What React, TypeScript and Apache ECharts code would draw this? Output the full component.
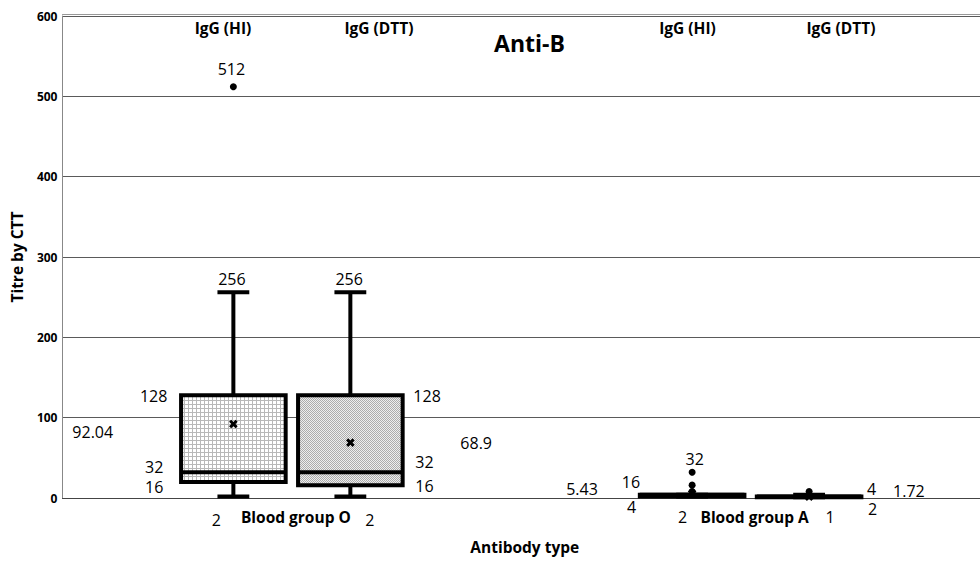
import React, { useEffect, useRef } from "react";
import * as echarts from "echarts";

// ---------- data ----------
const categories = ["Blood group O", "Blood group A"];
const seriesNames = ["IgG (HI)", "IgG (DTT)"];
const yTicks = [0, 100, 200, 300, 400, 500, 600];

// five-number summaries [min, Q1, median, Q3, max], one per category
const hiBoxes = [
  [2, 20, 32, 128, 256],
  [2, 2, 4, 4, 4],
];
const dttBoxes = [
  [2, 16, 32, 128, 256],
  [1, 1, 2, 2, 4],
];
// outliers [categoryIndex, value]
const hiOutliers = [
  [0, 512],
  [1, 32],
  [1, 16],
  [1, 8],
];
const dttOutliers = [[1, 8]];
// means per category
const hiMeans = [92.04, 5.43];
const dttMeans = [68.9, 1.72];
// value labels [categoryIndex, value]
const hiLabels = [
  [0, 512], [0, 256], [0, 128], [0, 32], [0, 16], [0, 2], [0, 92.04],
  [1, 32], [1, 16], [1, 4], [1, 2], [1, 5.43],
];
const dttLabels = [
  [0, 256], [0, 128], [0, 32], [0, 16], [0, 2], [0, 68.9],
  [1, 4], [1, 2], [1, 1], [1, 1.72],
];

// ---------- label placement (style, px offsets from the point) ----------
const hiLabelPlace: [number, number, string][] = [
  [-2, -18, "center"], [-1.5, -13, "center"], [-66, 1, "right"], [-70, -5.5, "right"],
  [-70, 2, "right"], [-17, 23.5, "center"], [-161, 8, "left"],
  [2.5, -13.3, "center"], [-52, -3.5, "right"], [-60.5, 12, "center"],
  [-9.5, 21, "center"], [-126, -4.3, "left"],
];
const dttLabelPlace: [number, number, string][] = [
  [-1.2, -13.3, "center"], [63, 0.7, "left"], [65, -10.6, "left"], [65, 0.8, "left"],
  [19.5, 23.5, "center"], [110, 0.6, "left"],
  [58, -5.5, "left"], [59, 12.5, "left"], [21, 20, "center"], [84, -6, "left"],
];

const FONT = "'Open Sans', 'Liberation Sans', sans-serif";
const BOX_OFFSET = [-0.1275, 0.1275];
const BOX_WIDTH = 0.228;
const CAP_WIDTH = 0.0694;

function makeGridPattern() {
  const c = document.createElement("canvas");
  c.width = 4;
  c.height = 4;
  const ctx = c.getContext("2d")!;
  ctx.fillStyle = "#ffffff";
  ctx.fillRect(0, 0, 4, 4);
  ctx.fillStyle = "#b8b8b8";
  ctx.fillRect(0, 0, 4, 1);
  ctx.fillRect(0, 0, 1, 4);
  return { image: c, repeat: "repeat" };
}
function makeDotPattern() {
  const c = document.createElement("canvas");
  c.width = 2;
  c.height = 2;
  const ctx = c.getContext("2d")!;
  ctx.fillStyle = "#eeeeee";
  ctx.fillRect(0, 0, 2, 2);
  ctx.fillStyle = "#acacac";
  ctx.fillRect(0, 0, 1, 1);
  ctx.fillRect(1, 1, 1, 1);
  return { image: c, repeat: "repeat" };
}

function boxRenderer(s: number, fill: any) {
  return (params: any, api: any) => {
    const cat = api.value(0);
    const band = api.size([1, 0])[0];
    const cx = api.coord([cat, 0])[0] + BOX_OFFSET[s] * band;
    const py = (v: number) => api.coord([cat, v])[1];
    const [yMin, yQ1, yMed, yQ3, yMax] = [1, 2, 3, 4, 5].map((d) => py(api.value(d)));
    const hw = (BOX_WIDTH * band) / 2;
    const cw = (CAP_WIDTH * band) / 2;
    const ls = { stroke: "#000", lineWidth: 4 };
    return {
      type: "group",
      children: [
        { type: "line", shape: { x1: cx, y1: yMax, x2: cx, y2: yQ3 }, style: ls },
        { type: "line", shape: { x1: cx, y1: yQ1, x2: cx, y2: yMin }, style: ls },
        { type: "line", shape: { x1: cx - cw, y1: yMax, x2: cx + cw, y2: yMax }, style: ls },
        { type: "line", shape: { x1: cx - cw, y1: yMin, x2: cx + cw, y2: yMin }, style: ls },
        {
          type: "rect",
          shape: { x: cx - hw, y: yQ3, width: 2 * hw, height: yQ1 - yQ3 },
          style: { fill, stroke: "#000", lineWidth: 4 },
        },
        { type: "line", shape: { x1: cx - hw, y1: yMed, x2: cx + hw, y2: yMed }, style: ls },
      ],
    };
  };
}

function dotRenderer(s: number) {
  return (params: any, api: any) => {
    const cat = api.value(0);
    const band = api.size([1, 0])[0];
    const [x0, y0] = api.coord([cat, api.value(1)]);
    return {
      type: "circle",
      shape: { cx: x0 + BOX_OFFSET[s] * band, cy: y0, r: 3.5 },
      style: { fill: "#000" },
    };
  };
}

function meanRenderer(s: number) {
  return (params: any, api: any) => {
    const cat = api.value(0);
    const band = api.size([1, 0])[0];
    const [x0, y0] = api.coord([cat, api.value(1)]);
    const cx = x0 + BOX_OFFSET[s] * band;
    const a = 4.3, t = 2.1;
    const pts = [
      [-a, -a + t], [-a + t, -a], [0, -t], [a - t, -a], [a, -a + t], [t, 0],
      [a, a - t], [a - t, a], [0, t], [-a + t, a], [-a, a - t], [-t, 0],
    ].map(([px, py]) => [cx + px, y0 + py]);
    return { type: "polygon", shape: { points: pts }, style: { fill: "#000" } };
  };
}

function labelRenderer(s: number, place: [number, number, string][]) {
  return (params: any, api: any) => {
    const cat = api.value(0);
    const v = api.value(1);
    const band = api.size([1, 0])[0];
    const [x0, y0] = api.coord([cat, v]);
    const cx = x0 + BOX_OFFSET[s] * band;
    const [dx, dy, align] = place[params.dataIndex];
    return {
      type: "text",
      x: cx + dx,
      y: y0 + dy,
      style: {
        text: String(v),
        fill: "#000",
        fontFamily: FONT,
        fontSize: 16,
        lineHeight: 15,
        align,
        textAlign: align,
        verticalAlign: "middle",
        textVerticalAlign: "middle",
      },
    };
  };
}

export default function App() {
  const ref = useRef<HTMLDivElement>(null);
  useEffect(() => {
    document.body.style.margin = "0";
    const chart = echarts.init(ref.current!, null, { renderer: "svg" });
    const boxSets = [hiBoxes, dttBoxes];
    const outSets = [hiOutliers, dttOutliers];
    const meanSets = [hiMeans, dttMeans];
    const labelSets = [hiLabels, dttLabels];
    const placeSets = [hiLabelPlace, dttLabelPlace];
    const fills = [makeGridPattern(), makeDotPattern()];

    const series: any[] = [];
    [0, 1].forEach((s) => {
      series.push({
        type: "custom",
        name: seriesNames[s],
        clip: false,
        renderItem: boxRenderer(s, fills[s]),
        encode: { x: 0, y: [1, 2, 3, 4, 5] },
        data: boxSets[s].map((b, i) => [i, ...b]),
        z: 3,
      });
      series.push({
        type: "custom",
        name: seriesNames[s] + " outliers",
        clip: false,
        renderItem: dotRenderer(s),
        encode: { x: 0, y: 1 },
        data: outSets[s],
        z: 4,
      });
      series.push({
        type: "custom",
        name: seriesNames[s] + " mean",
        clip: false,
        renderItem: meanRenderer(s),
        encode: { x: 0, y: 1 },
        data: meanSets[s].map((m, i) => [i, m]),
        z: 5,
      });
      series.push({
        type: "custom",
        name: seriesNames[s] + " labels",
        clip: false,
        renderItem: labelRenderer(s, placeSets[s]),
        encode: { x: 0, y: 1 },
        data: labelSets[s],
        z: 6,
      });
    });

    const headerPos = [
      [223, 28], [379, 28], [687.5, 28], [841, 28],
    ];
    const headerText = [seriesNames[0], seriesNames[1], seriesNames[0], seriesNames[1]];

    const option: any = {
      animation: false,
      backgroundColor: "#ffffff",
      grid: { left: 62, top: 16, width: 922, height: 482 },
      xAxis: [
        {
          type: "category",
          data: categories,
          position: "bottom",
          offset: 3,
          axisLine: { lineStyle: { color: "#444", width: 1 } },
          axisTick: { show: false },
          splitLine: { show: false },
          axisLabel: {
            color: "#000",
            fontFamily: FONT,
            fontWeight: "bold",
            fontSize: 15.5,
            lineHeight: 18,
            margin: 7,
            padding: [0, 0, 0, 8],
          },
          name: "Antibody type",
          nameLocation: "middle",
          nameGap: 37,
          nameTextStyle: {
            color: "#000",
            fontFamily: FONT,
            fontWeight: "bold",
            fontSize: 15.5,
            lineHeight: 18,
            padding: [0, 0, 0, 7],
          },
        },
        {
          type: "category",
          data: categories,
          position: "top",
          offset: 2,
          axisLine: { lineStyle: { color: "#999", width: 1 } },
          axisTick: { show: false },
          axisLabel: { show: false },
          splitLine: { show: false },
        },
      ],
      yAxis: {
        type: "value",
        min: yTicks[0],
        max: yTicks[yTicks.length - 1],
        interval: yTicks[1] - yTicks[0],
        axisLine: { show: true, lineStyle: { color: "#888" } },
        axisTick: { show: false },
        axisLabel: {
          color: "#000",
          fontFamily: FONT,
          fontWeight: "bold",
          fontSize: 12,
          margin: 5,
        },
        splitLine: { show: true, lineStyle: { color: "#5a5a5a", width: 1 } },
        name: "Titre by CTT",
        nameLocation: "middle",
        nameRotate: 90,
        nameGap: 34,
        nameTextStyle: {
          color: "#000",
          fontFamily: FONT,
          fontWeight: "bold",
          fontSize: 15.5,
          lineHeight: 18,
        },
      },
      graphic: [
        {
          type: "text",
          x: 529.5,
          y: 43,
          style: {
            text: "Anti-B",
            fill: "#000",
            fontFamily: FONT,
            fontWeight: "bold",
            fontSize: 23,
            align: "center",
            textAlign: "center",
            verticalAlign: "middle",
            textVerticalAlign: "middle",
          },
        },
        ...headerPos.map((p, i) => ({
          type: "text",
          x: p[0],
          y: p[1],
          style: {
            text: headerText[i],
            fill: "#000",
            fontFamily: FONT,
            fontWeight: "bold",
            fontSize: 15.5,
            align: "center",
            textAlign: "center",
            verticalAlign: "middle",
            textVerticalAlign: "middle",
          },
        })),
      ],
      series,
    };
    chart.setOption(option);
    return () => chart.dispose();
  }, []);
  return <div ref={ref} style={{ width: 980, height: 561 }} />;
}
